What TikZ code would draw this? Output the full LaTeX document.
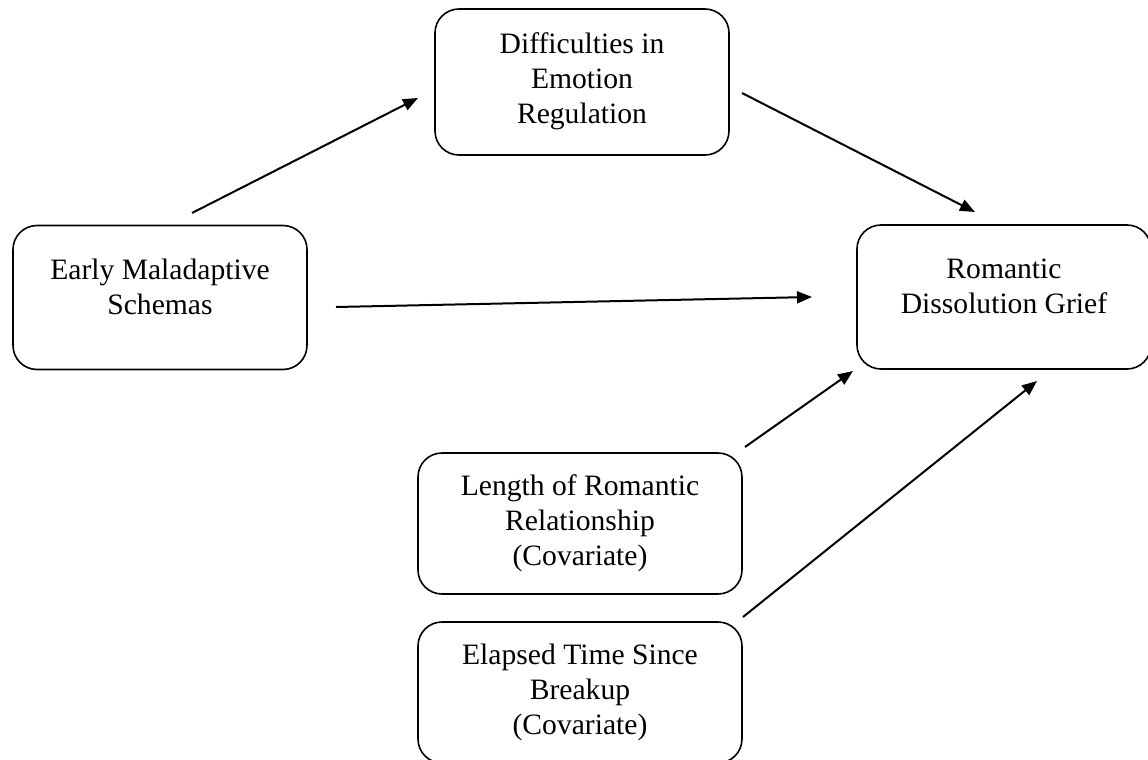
\documentclass[tikz,border=0pt]{standalone}
\usepackage{fontspec}
\setmainfont{Liberation Serif}
\usetikzlibrary{arrows.meta}
\usetikzlibrary{positioning}

\begin{document}
\begin{tikzpicture}[
            x = 0.5pt, y = -0.5pt, % one unit per pixel, y downwards
            > = {Triangle[length=7.5pt,width=6pt]}, % arrow head style
            line width = 1pt, % arrow line style
            font = \fontsize{14.8pt}{17.5pt}\selectfont
        ]

        \tikzstyle{box}=[
            draw,
            line width = 0.8pt,
            rounded corners = 12pt,
            align = center,
            inner sep = 0pt,
            text depth = 3pt
        ]
        \tikzstyle{wide box}=[box, minimum width = 147pt, minimum height = 72pt, text height = 19.5pt]
        \tikzstyle{cov box}=[box, minimum width = 162pt, minimum height = 70.5pt, text height = 45pt]

        \useasboundingbox (0,0) rectangle (1148,760);

	% predictor and outcome
        \node[wide box] (EMS) at (160,297.5) {Early Maladaptive\\ Schemas};
        \node[wide box] (RDG) at (1004,297) {Romantic\\ Dissolution Grief};

	% mediator
        \node[wide box, minimum height = 73pt, text height = 44pt] (DER) at (582,82) {Difficulties in\\ Emotion\\ Regulation};

	% covariates
        \node[cov box] (LRR) at (580,523.5) {Length of Romantic\\ Relationship\\ (Covariate)};
        \node[cov box] (ETB) at (580,692.5) {Elapsed Time Since\\ Breakup\\ (Covariate)};

	% free arrow ends
        \coordinate (EMS-a) at (192,213);
        \coordinate (DER-in) at (418,98);
        \coordinate (EMS-b) at (336,307);
        \coordinate (RDG-w) at (812,297);
        \coordinate (DER-out) at (742,93);
        \coordinate (RDG-n) at (975,212);
        \coordinate (LRR-out) at (745,447);
        \coordinate (RDG-sw) at (853,371);
        \coordinate (ETB-out) at (743,617);
        \coordinate (RDG-s) at (1037,381);

        \draw[->] (EMS-a) -- (DER-in);
        \draw[->] (EMS-b) -- (RDG-w);
        \draw[->] (DER-out) -- (RDG-n);
        \draw[->] (LRR-out) -- (RDG-sw);
        \draw[->] (ETB-out) -- (RDG-s);

\end{tikzpicture}
\end{document}
